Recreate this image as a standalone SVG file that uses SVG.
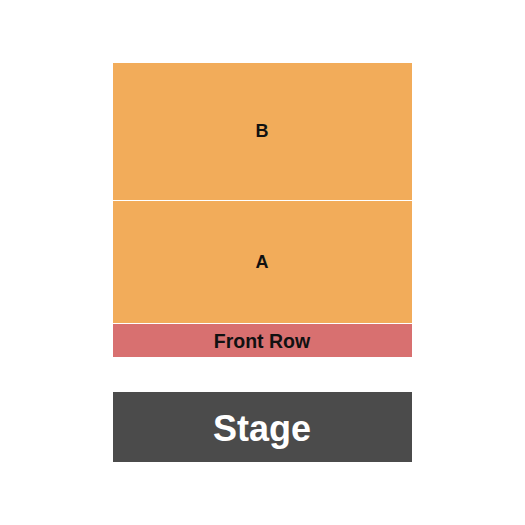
<svg xmlns="http://www.w3.org/2000/svg" width="525" height="525" viewBox="0 0 525 525">
<style>
.sec{fill:#F2AC5A}
.lbl{font-family:"Liberation Sans",Arial,sans-serif;font-weight:bold;text-anchor:middle;fill:#111}
</style>
<rect width="525" height="525" fill="#fff"/>
<g id="section-B"><rect class="sec" x="113" y="63" width="299" height="137"/><text class="lbl" x="262" y="137" font-size="18">B</text></g>
<g id="section-A"><rect class="sec" x="113" y="201" width="299" height="122"/><text class="lbl" x="262" y="268" font-size="18">A</text></g>
<g id="front-row"><rect x="113" y="324" width="299" height="33" fill="#D87070"/><text class="lbl" x="262" y="347.5" font-size="19.5">Front Row</text></g>
<g id="stage"><rect x="113" y="392" width="299" height="70" fill="#4B4B4B"/><text class="lbl" x="262" y="441" font-size="36" style="fill:#fff">Stage</text></g>
<g id="connectors"/>
</svg>
